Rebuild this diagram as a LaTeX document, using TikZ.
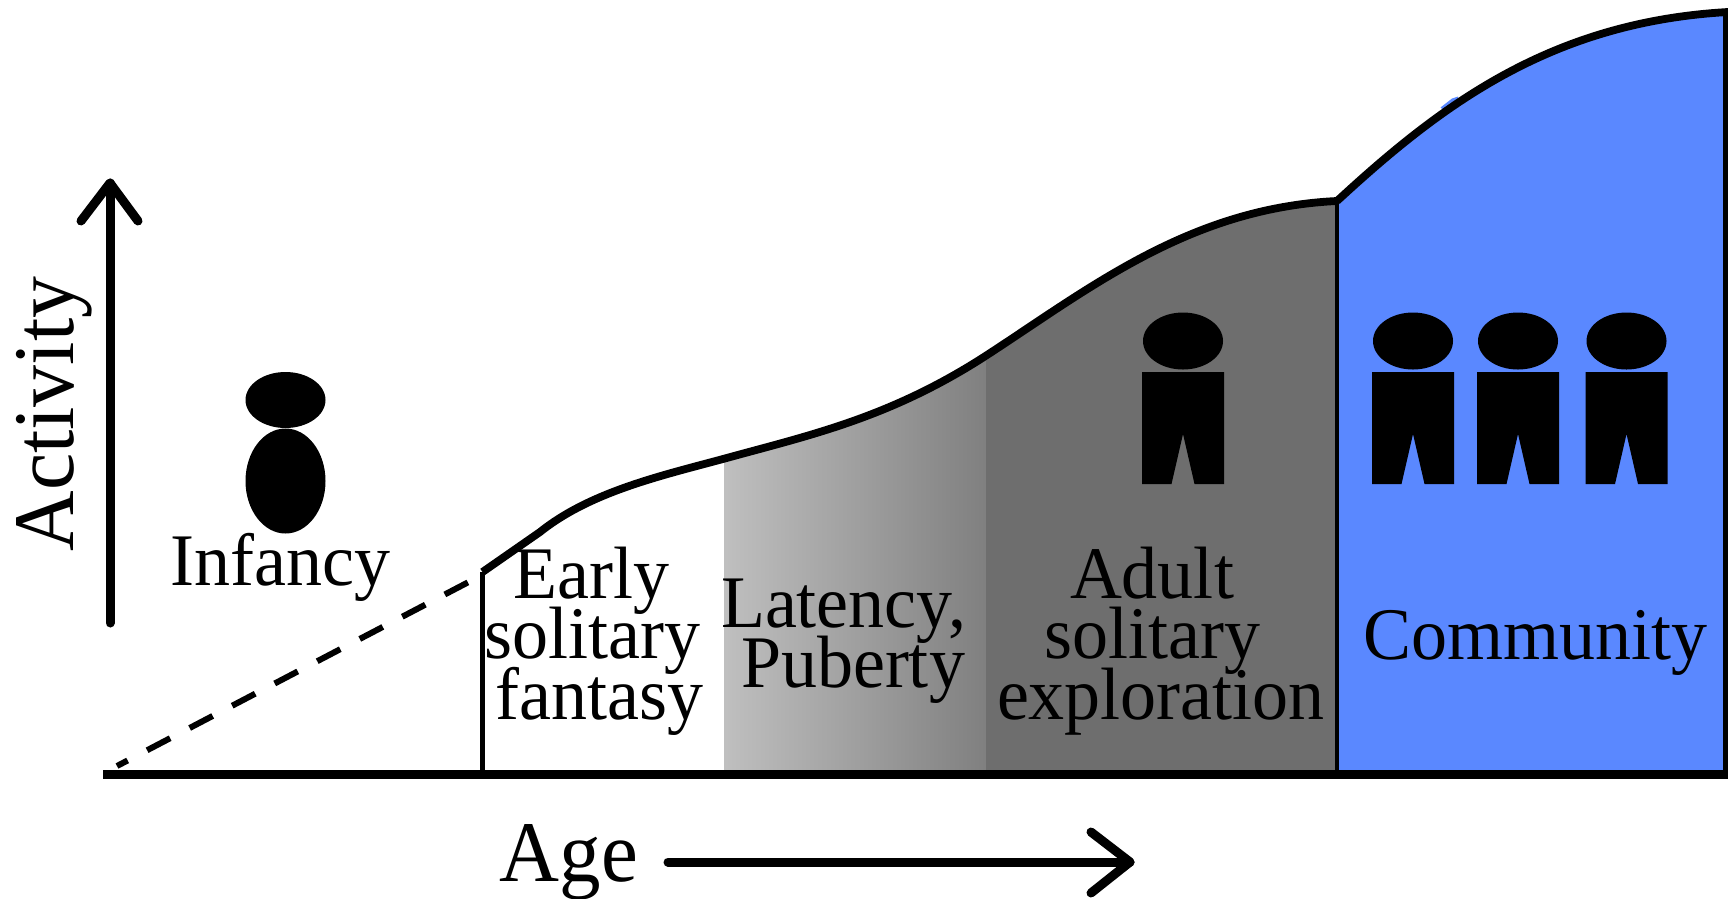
\documentclass[tikz,border=0pt]{standalone}
\usepackage{fontspec}
\setmainfont{Liberation Serif}
\lineskiplimit=-200pt
\normallineskiplimit=-200pt
\definecolor{bluefill}{HTML}{5A88FF}
\definecolor{grayfill}{HTML}{6E6E6E}
\newcommand{\adultfig}[1]{%
  \fill (#1,341) ellipse[x radius=40,y radius=28.5];
  \fill (#1-41,372) -- (#1+41,372) -- (#1+41,484) -- (#1+11.5,484) -- (#1,434) -- (#1-11.5,484) -- (#1-41,484) -- cycle;
}
\tikzset{
  curveA/.style={insert path={-- (540,532) .. controls (590,492) and (660,476) .. (723,459) .. controls (810,435) and (890,418) .. (987,355) .. controls (1090,288) and (1190,208) .. (1337,201)}},
  curveB/.style={insert path={.. controls (1440,106) and (1550,22) .. (1728,12)}},
  lab/.style={inner sep=0pt,outer sep=0pt,font=\fontsize{72}{58.6}\selectfont},
  bigl/.style={inner sep=0pt,outer sep=0pt,font=\fontsize{83}{83}\selectfont},
  thickl/.style={line width=9pt,line cap=round,line join=round},
  curvel/.style={line width=7.8pt,line join=round},
  thinl/.style={line width=4.7pt}
}
\begin{document}
\begin{tikzpicture}[x=1pt,y=-1pt]
\useasboundingbox (0,0) rectangle (1728,898);
% fills
\begin{scope}
  \clip (482,774) -- (482,572) [curveA] -- (1337,774) -- cycle;
  \fill[white] (482,0) rectangle (724,774);
  \shade[left color=black!25,right color=black!50] (724,0) rectangle (987,774);
  \fill[grayfill] (986,0) rectangle (1337,774);
\end{scope}
\fill[bluefill] (1337,774) -- (1337,201) [curveB] -- (1726,12) -- (1726,774) -- cycle;
\fill[bluefill] (1440.5,107.5) -- (1452,98.5) -- (1458,96.5) -- (1458,100) -- (1443,110) -- cycle;
% coordinates
\coordinate (base0) at (103,774.5);
\coordinate (base1) at (1728,774.5);
\coordinate (v1t) at (482.5,572);
\coordinate (v1b) at (482.5,774);
\coordinate (v2t) at (1337,201);
\coordinate (v2b) at (1337,774);
\coordinate (v3t) at (1725.3,11);
\coordinate (v3b) at (1725.3,774);
\coordinate (d0) at (117,766);
\coordinate (d1) at (482,575);
\coordinate (ya) at (110,623);
\coordinate (yb) at (110,183);
\coordinate (yl) at (81,221);
\coordinate (yr) at (138,221);
\coordinate (xa) at (668,862);
\coordinate (xb) at (1130,862);
\coordinate (xu) at (1091,832);
\coordinate (xd) at (1091,893);
% lines
\draw[thinl] (v1t) -- (v1b);
\draw[thinl] (v2t) -- (v2b);
\draw[thinl,line width=5.4pt] (v3t) -- (v3b);
\draw[line width=8.5pt] (base0) -- (base1);
\draw[curvel] (v1t) [curveA];
\draw[curvel] (v2t) [curveB];
\draw[line width=6pt,dash pattern=on 26pt off 22pt,dash phase=14pt] (d0) -- (d1);
\draw[thickl] (ya) -- (yb);
\draw[thickl] (yl) -- (yb) -- (yr);
\draw[thickl] (xa) -- (xb);
\draw[thickl] (xu) -- (xb) -- (xd);
% figures
\fill (285.5,400) ellipse[x radius=40,y radius=28];
\fill (285.5,481) ellipse[x radius=40,y radius=52.5];
\adultfig{1183}
\adultfig{1413}
\adultfig{1518}
\adultfig{1626.5}
% labels
\node[lab,anchor=base,yscale=1.03] (infancy) at (280.5,585) {Infancy};
\node[lab,anchor=north west,align=left,yscale=1.03] (early) at (484.5,547) {\hspace*{29pt}Early\\solitary\\\hspace*{11pt}fantasy};
\node[lab,anchor=north west,align=left,yscale=1.03] (latency) at (721,579) {Latency,\\\hspace*{20pt}Puberty};
\node[lab,anchor=north west,align=left,yscale=1.03] (adult) at (997,547) {\hspace*{73pt}Adult\\\hspace*{47pt}solitary\\exploration};
\node[lab,anchor=base,yscale=1.03] (community) at (1535.5,659) {Community};
\node[bigl,anchor=base,yscale=1.04] (age) at (569,881) {Age};
\node[bigl,anchor=base,rotate=90,yscale=1.04,xscale=1.01] (activity) at (73,414) {Activity};
\end{tikzpicture}
\end{document}
